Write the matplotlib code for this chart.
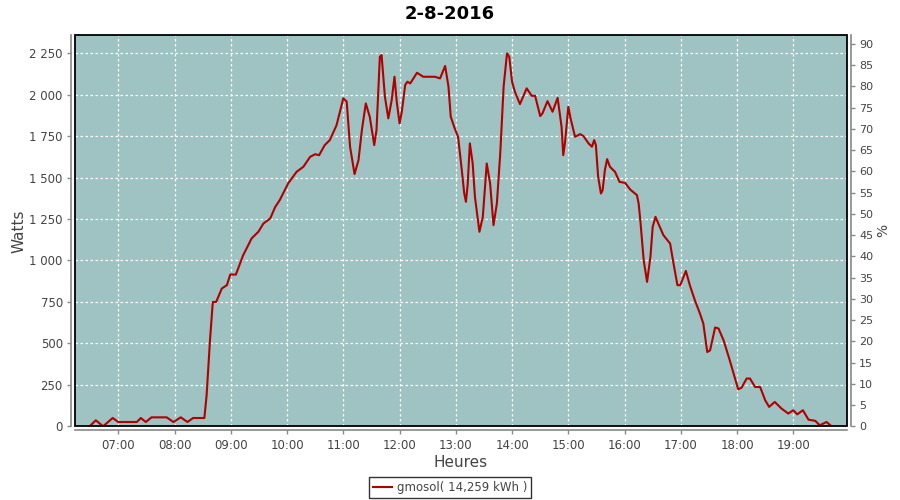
import matplotlib
matplotlib.use("Agg")
import matplotlib.pyplot as plt
from matplotlib.patches import Rectangle
from matplotlib.ticker import FuncFormatter, MultipleLocator

plt.rcParams['font.family'] = ['DejaVu Sans']

title = "2-8-2016"
series_name = "gmosol( 14,259 kWh )"
x_label = "Heures"
y_label = "Watts"
y2_label = "%"

hours = [6.49, 6.60, 6.73, 6.90, 7.00, 7.33, 7.40, 7.49, 7.59, 7.86, 7.98, 8.11, 8.23, 8.33,
         8.53, 8.57, 8.63, 8.68, 8.74, 8.84, 8.93, 8.99, 9.09, 9.22, 9.37, 9.49, 9.58, 9.70,
         9.79, 9.87, 10.02, 10.17, 10.29, 10.41, 10.50, 10.57, 10.67, 10.76, 10.88, 11.00,
         11.06, 11.12, 11.20, 11.27, 11.33, 11.40, 11.47, 11.55, 11.59, 11.65, 11.68, 11.74,
         11.80, 11.86, 11.91, 11.95, 12.00, 12.04, 12.10, 12.14, 12.19, 12.31, 12.42, 12.63,
         12.72, 12.81, 12.87, 12.91, 12.98, 13.04, 13.10, 13.15, 13.18, 13.21, 13.25, 13.30,
         13.34, 13.42, 13.48, 13.55, 13.61, 13.67, 13.73, 13.79, 13.85, 13.91, 13.95, 14.00,
         14.05, 14.14, 14.26, 14.35, 14.41, 14.50, 14.54, 14.63, 14.72, 14.81, 14.88, 14.91,
         14.94, 15.00, 15.04, 15.12, 15.21, 15.27, 15.36, 15.42, 15.46, 15.49, 15.53, 15.58,
         15.61, 15.65, 15.69, 15.74, 15.83, 15.91, 16.01, 16.10, 16.22, 16.25, 16.28, 16.34,
         16.40, 16.46, 16.50, 16.55, 16.60, 16.69, 16.81, 16.87, 16.94, 16.99, 17.09, 17.16,
         17.25, 17.34, 17.40, 17.47, 17.52, 17.61, 17.67, 17.76, 17.87, 17.93, 18.02, 18.08,
         18.17, 18.23, 18.32, 18.41, 18.50, 18.57, 18.67, 18.79, 18.91, 19.00, 19.07, 19.17,
         19.27, 19.39, 19.47, 19.59, 19.68]
watts = [0, 36, 0, 50, 26, 26, 50, 26, 54, 54, 26, 54, 26, 50,
         50, 187, 519, 750, 750, 831, 851, 915, 915, 1032, 1133, 1173, 1223, 1253,
         1323, 1364, 1465, 1535, 1565, 1625, 1641, 1635, 1696, 1726, 1816, 1978,
         1958, 1686, 1521, 1605, 1786, 1947, 1867, 1696, 1786, 2229, 2239, 1987,
         1857, 1967, 2108, 1957, 1827, 1897, 2058, 2078, 2068, 2132, 2108, 2108,
         2098, 2173, 2048, 1867, 1797, 1746, 1565, 1404, 1354, 1454, 1706, 1585,
         1384, 1173, 1263, 1585, 1464, 1213, 1344, 1646, 2048, 2249, 2229, 2078,
         2018, 1943, 2038, 1993, 1993, 1871, 1887, 1961, 1897, 1981, 1806, 1635,
         1706, 1927, 1857, 1746, 1762, 1750, 1706, 1686, 1726, 1696, 1505, 1404,
         1424, 1545, 1611, 1565, 1535, 1474, 1468, 1428, 1394, 1344, 1243, 1002,
         871, 1022, 1203, 1263, 1223, 1153, 1102, 982, 851, 851, 937, 851,
         760, 680, 620, 448, 458, 596, 590, 519, 398, 328, 223, 233,
         288, 288, 237, 237, 157, 117, 147, 107, 77, 97, 72, 97,
         40, 33, 6, 26, 0]

hour_ticks = [7, 8, 9, 10, 11, 12, 13, 14, 15, 16, 17, 18, 19]
hour_labels = ["07:00", "08:00", "09:00", "10:00", "11:00", "12:00", "13:00",
               "14:00", "15:00", "16:00", "17:00", "18:00", "19:00"]

bg = "#9EC3C2"
line_col = "#B00000"
txt = "#444444"
axis_gray = "#888888"

fig = plt.figure(figsize=(9, 5), dpi=100)
fig.patch.set_facecolor("white")
ax = fig.add_axes([75.3 / 900, 1 - 426.3 / 500, (846.7 - 75.3) / 900, (426.3 - 35.3) / 500])
ax.set_facecolor(bg)

ax.plot(hours, watts, color=line_col, lw=1.5, label=series_name, zorder=3)

ax.set_xlim(6.2356, 19.949)
ax.set_ylim(0, 2358)
ax.set_xticks(hour_ticks)
ax.set_xticklabels(hour_labels)
ax.yaxis.set_major_locator(MultipleLocator(250))
ax.yaxis.set_major_formatter(FuncFormatter(lambda v, p: f"{int(round(v)):,}".replace(",", " ")))

ax.grid(True, color="white", linestyle=(0, (2, 2)), linewidth=0.9)
ax.set_axisbelow(True)

for s in ["top", "right"]:
    ax.spines[s].set_visible(False)
for s in ["left", "bottom"]:
    ax.spines[s].set_position(("outward", 3))
    ax.spines[s].set_color(axis_gray)
    ax.spines[s].set_linewidth(1.2)
ax.tick_params(axis="both", colors=axis_gray, labelcolor=txt, labelsize=8.5, length=3, width=1)
ax.tick_params(axis="x", pad=3)
ax.tick_params(axis="y", pad=3)

ax.add_patch(Rectangle((0, 0), 1, 1, transform=ax.transAxes, fill=False,
                       edgecolor="black", lw=1.3, clip_on=False, zorder=5))

ax.set_xlabel(x_label, fontsize=11, color=txt, labelpad=2)
ax.set_ylabel(y_label, fontsize=11, color=txt, labelpad=2)

ax2 = ax.twinx()
ax2.set_ylim(0, 92.05)
ax2.yaxis.set_major_locator(MultipleLocator(5))
for s in ["top", "left", "bottom"]:
    ax2.spines[s].set_visible(False)
ax2.spines["right"].set_position(("outward", 3))
ax2.spines["right"].set_color(axis_gray)
ax2.spines["right"].set_linewidth(1.2)
ax2.tick_params(axis="y", colors=axis_gray, labelcolor=txt, labelsize=8, length=3, width=1, pad=3)
ax2.set_ylabel(y2_label, fontsize=10, color=txt, labelpad=2)

fig.text(0.5, 1 - 14 / 500, title, ha="center", va="center", fontsize=13, fontweight="bold", color="black")

leg = fig.legend(loc="center", bbox_to_anchor=(0.5, 1 - 487.5 / 500), frameon=True, fancybox=False,
                 fontsize=8.5, handlelength=1.6, handletextpad=0.4, borderpad=0.35)
leg.get_frame().set_edgecolor("black")
leg.get_frame().set_linewidth(1.0)
for t in leg.get_texts():
    t.set_color(txt)

fig.savefig("out.png", dpi=100, facecolor="white")
